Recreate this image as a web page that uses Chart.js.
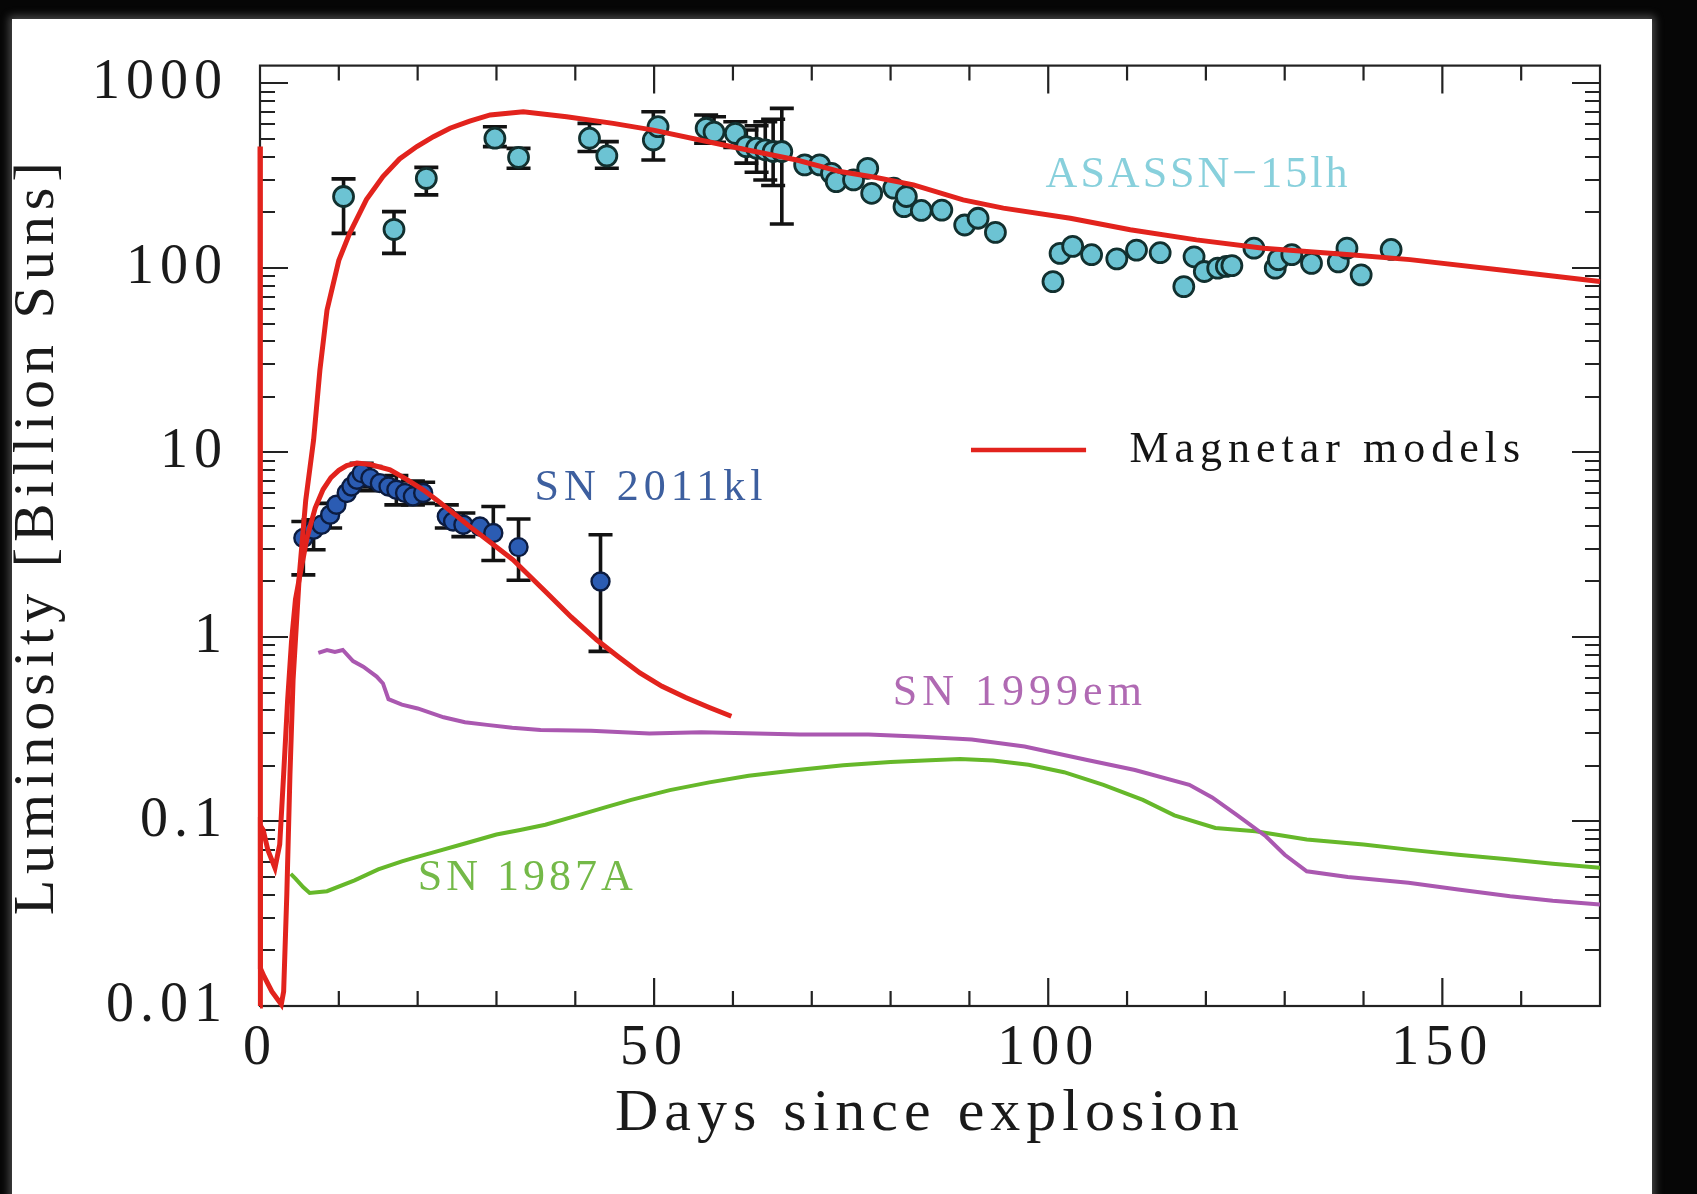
<!DOCTYPE html>
<html>
<head>
<meta charset="utf-8">
<title>Luminosity vs days since explosion</title>
<script src="https://cdn.jsdelivr.net/npm/chart.js@4.4.1/dist/chart.umd.min.js"></script>
<style>
  html, body { margin: 0; padding: 0; background: #050505; }
  #page { position: relative; width: 1697px; height: 1194px; overflow: hidden; background: #060606; }
  #sheet { position: absolute; left: 12px; top: 19px; width: 1640px; height: 1190px; background: #fff;
           box-shadow: 0 0 8px 3px rgba(200,200,200,0.35); }
  #lum { position: absolute; left: 0; top: 0; }
</style>
</head>
<body>
<div id="page">
  <div id="sheet"></div>
  <canvas id="lum" width="1697" height="1194"></canvas>
</div>
<script>
// ASASSN-15lh photometry (days, billion suns, error bar low/high)
var asassnDays = [10.6, 17.0, 21.1, 29.8, 32.8, 41.8, 44.0, 49.9, 50.5, 56.6, 57.6, 60.3, 61.7, 63.0, 64.1, 65.1, 66.2,
  69.1, 71.0, 72.5, 73.1, 75.3, 77.1, 77.6, 80.4, 81.7, 82.0, 83.9, 86.5, 89.4, 91.1, 93.3,
  100.6, 101.5, 103.1, 105.5, 108.7, 111.2, 114.2, 117.2, 118.5, 119.8, 121.5, 122.6, 123.3,
  126.1, 128.8, 129.2, 130.9, 133.4, 136.8, 137.9, 139.7, 143.5];
var asassnLum = [244, 162, 306, 505, 398, 505, 405, 494, 583, 572, 545, 537, 455, 446, 437, 428, 428,
  362, 362, 326, 294, 300, 347, 254, 271, 215, 244, 205, 206, 171, 186, 156,
  84.4, 120, 131, 118, 112, 125, 121, 79.3, 115, 95.7, 99.8, 102, 103,
  128, 99.8, 111, 118, 106, 108, 128, 91.8, 126];
var asassnErrLo = [154, 120, 249, 455, 347, 428, 347, 385, null, 474, 480, 450, 370, 330, 300, 280, 173];
var asassnErrHi = [304, 202, 351, 583, 445, 608, 484, 703, null, 675, 660, 620, 560, 590, 620, 640, 733];

// SN 2011kl photometry
var kl2011Days = [5.5, 6.8, 7.8, 8.9, 9.7, 11.0, 11.6, 12.3, 12.9, 14.0, 15.2, 16.3, 17.3, 18.4, 19.4, 20.7,
  23.7, 24.5, 25.8, 27.9, 29.6, 32.8, 43.2];
var kl2011Lum = [3.44, 3.81, 4.06, 4.60, 5.21, 6.03, 6.54, 7.11, 7.73, 7.26, 6.82, 6.54, 6.28, 6.03, 5.78, 6.03,
  4.50, 4.23, 4.06, 3.97, 3.66, 3.07, 2.0];
var kl2011ErrLo = [2.17, 2.97, null, 3.9, null, null, null, null, 6.5, 6.2, null, null, 5.2, null, 5.2, 5.3,
  3.9, null, 3.5, null, 2.6, 2.03, 0.836];
var kl2011ErrHi = [4.23, 4.32, null, 5.3, null, null, null, null, 8.75, 8.4, null, null, 7.5, null, 7.0, 6.9,
  5.2, null, 4.7, null, 5.1, 4.36, 3.58];

// magnetar model curves
var modelAsassnDays = [0, 0.05, 0.5, 1.5, 2.7, 3.0, 3.4, 3.8, 4.2, 5.0, 5.8, 6.8, 7.6, 8.5, 10, 11.4, 13.5, 15.6,
  17.7, 19.9, 22, 24.1, 26.6, 29.2, 33.4, 38.9, 44.8, 49.9, 55.8, 61.7, 68.1, 73.6, 78, 82.9, 89.2, 94.3,
  102.8, 110.4, 118.8, 127.3, 138.3, 145.9, 158, 170];
var modelAsassnLum = [455, 0.016, 0.0145, 0.012, 0.0102, 0.012, 0.04, 0.18, 0.59, 2.2, 5.5, 11.7, 28, 59, 110, 155,
  235, 313, 390, 455, 515, 572, 625, 675, 703, 661, 608, 559, 494, 437, 385, 333, 310, 282, 234, 211,
  186, 161, 142, 128, 118, 111, 97, 84.4];
var modelKlDays = [0, 0.05, 0.4, 1.0, 1.9, 2.5, 3.0, 3.5, 4.0, 4.5, 5.1, 6, 7, 8, 9, 10, 11, 12.3, 14, 16.5, 18.5,
  20.7, 22.5, 24.5, 26.5, 28.8, 32.1, 36.4, 39.5, 42.7, 45.5, 48.2, 51, 54, 57, 59.8];
var modelKlLum = [0.01, 0.095, 0.09, 0.07, 0.056, 0.075, 0.18, 0.45, 0.95, 1.6, 2.2, 3.5, 5.0, 6.3, 7.3, 8.0, 8.5,
  8.77, 8.6, 8.06, 7.2, 6.28, 5.5, 4.70, 4.0, 3.37, 2.62, 1.73, 1.28, 0.966, 0.78, 0.638, 0.54, 0.47, 0.415, 0.372];

// comparison supernovae
var sn1999emDays = [7.4, 8.5, 9.5, 10.5, 11.8, 13.1, 14.8, 15.6, 16.3, 18, 20, 23.3, 26, 28.8, 32, 35.6, 42, 49.4,
  56, 63, 68.5, 77.2, 84, 90.3, 97, 104.8, 111, 117.9, 120.8, 124, 127.6, 130, 132.8, 138, 145.7, 152, 158.6, 164, 170];
var sn1999emLum = [0.82, 0.85, 0.83, 0.85, 0.74, 0.69, 0.61, 0.56, 0.46, 0.43, 0.41, 0.367, 0.345, 0.334, 0.322,
  0.313, 0.31, 0.30, 0.305, 0.30, 0.296, 0.296, 0.288, 0.278, 0.255, 0.216, 0.19, 0.158, 0.135, 0.108, 0.0832,
  0.066, 0.0537, 0.050, 0.0465, 0.0428, 0.0393, 0.0372, 0.0355];
var sn1987aDays = [3.9, 4.5, 5.5, 6.3, 8.5, 12, 15, 18, 19.5, 22, 26, 30, 33, 36.2, 40, 44, 47.1, 52, 57, 62, 68.5,
  74, 80, 85, 88.8, 93, 97.5, 102, 107, 112, 116, 121.2, 126.3, 132.8, 140, 145.7, 152, 158.6, 164, 170];
var sn1987aLum = [0.052, 0.049, 0.044, 0.041, 0.0419, 0.048, 0.055, 0.0608, 0.0635, 0.068, 0.076, 0.085, 0.090,
  0.096, 0.107, 0.12, 0.131, 0.148, 0.163, 0.177, 0.191, 0.202, 0.21, 0.215, 0.218, 0.214, 0.203, 0.185, 0.158,
  0.131, 0.108, 0.0922, 0.0885, 0.0798, 0.075, 0.0704, 0.066, 0.0622, 0.059, 0.0561];

var xTicks = [0, 50, 100, 150];
var yTicks = [0.01, 0.1, 1, 10, 100, 1000];
var yTickLabels = ['0.01', '0.1', '1', '10', '100', '1000'];

var serif = '"Liberation Serif", "Times New Roman", serif';
var RED = '#e2231d';

function pts(xs, ys) {
  return xs.map(function (d, i) { return { x: d, y: ys[i] }; });
}

// text labels placed in data coordinates
var notes = [
  { text: 'ASASSN\u221215lh', x: 119.0, y: 319, color: '#88d0dc', gap: 3 },
  { text: 'SN 2011kl', x: 49.6, y: 6.36, color: '#3d5f9f', gap: 5 },
  { text: 'SN 1999em', x: 96.4, y: 0.493, color: '#b06ab3', gap: 5 },
  { text: 'SN 1987A', x: 33.9, y: 0.0491, color: '#74b948', gap: 4 }
];
var legendNote = { text: 'Magnetar models', x0: 90.2, x1: 104.8, xText: 110.3, y: 10.3 };

var errorBars = {
  id: 'errorBars',
  beforeDatasetsDraw: function (chart) {
    var ctx = chart.ctx, xs = chart.scales.x, ys = chart.scales.y;
    ctx.save();
    ctx.strokeStyle = '#121212';
    ctx.lineWidth = 3.6;
    chart.data.datasets.forEach(function (ds) {
      if (!ds.errLo) return;
      ds.data.forEach(function (p, i) {
        if (ds.errLo[i] == null) return;
        var x = xs.getPixelForValue(p.x),
            y1 = ys.getPixelForValue(ds.errLo[i]),
            y2 = ys.getPixelForValue(ds.errHi[i]),
            c = 12;
        ctx.beginPath();
        ctx.moveTo(x, y1); ctx.lineTo(x, y2);
        ctx.moveTo(x - c, y1); ctx.lineTo(x + c, y1);
        ctx.moveTo(x - c, y2); ctx.lineTo(x + c, y2);
        ctx.stroke();
      });
    });
    ctx.restore();
  }
};

// box round the plot with inward ticks on all four sides
var frameTicks = {
  id: 'frameTicks',
  beforeDraw: function (chart) {
    chart.ctx.letterSpacing = '6px';
  },
  beforeDatasetsDraw: function (chart) {
    var ctx = chart.ctx, a = chart.chartArea, xs = chart.scales.x, ys = chart.scales.y;
    ctx.save();
    ctx.strokeStyle = '#222';
    ctx.lineWidth = 2.2;
    ctx.strokeRect(a.left, a.top, a.right - a.left, a.bottom - a.top);
    ctx.beginPath();
    for (var d = 10; d < xs.max; d += 10) {
      var px = xs.getPixelForValue(d), len = d % 50 === 0 ? 28 : 15;
      ctx.moveTo(px, a.bottom); ctx.lineTo(px, a.bottom - len);
      ctx.moveTo(px, a.top); ctx.lineTo(px, a.top + len);
    }
    for (var k = -2; k <= 3; k++) {
      for (var m = 1; m <= 9; m++) {
        var v = m * Math.pow(10, k);
        if (v > ys.max) break;
        var py = Math.round(ys.getPixelForValue(v)), l = m === 1 ? 28 : 15;
        ctx.moveTo(a.left, py); ctx.lineTo(a.left + l, py);
        ctx.moveTo(a.right, py); ctx.lineTo(a.right - l, py);
      }
    }
    ctx.stroke();
    ctx.restore();
  },
  afterDatasetsDraw: function (chart) {
    var ctx = chart.ctx, xs = chart.scales.x, ys = chart.scales.y;
    ctx.save();
    ctx.font = '44px ' + serif;
    ctx.textBaseline = 'middle';
    ctx.textAlign = 'center';
    notes.forEach(function (n) {
      ctx.letterSpacing = n.gap + 'px';
      ctx.fillStyle = n.color;
      ctx.fillText(n.text, xs.getPixelForValue(n.x), ys.getPixelForValue(n.y));
    });
    var ly = ys.getPixelForValue(legendNote.y);
    ctx.strokeStyle = RED;
    ctx.lineWidth = 4.5;
    ctx.beginPath();
    ctx.moveTo(xs.getPixelForValue(legendNote.x0), ly);
    ctx.lineTo(xs.getPixelForValue(legendNote.x1), ly);
    ctx.stroke();
    ctx.textAlign = 'left';
    ctx.letterSpacing = '6px';
    ctx.fillStyle = '#141414';
    ctx.fillText(legendNote.text, xs.getPixelForValue(legendNote.xText), ly);
    ctx.restore();
  }
};

var ctx = document.getElementById('lum').getContext('2d');
new Chart(ctx, {
  type: 'scatter',
  data: {
    datasets: [
      { label: 'Magnetar model (ASASSN-15lh)', data: pts(modelAsassnDays, modelAsassnLum), showLine: true,
        borderColor: RED, borderWidth: 5, pointRadius: 0, tension: 0, clip: 6, order: 0 },
      { label: 'Magnetar model (SN 2011kl)', data: pts(modelKlDays, modelKlLum), showLine: true,
        borderColor: RED, borderWidth: 5, pointRadius: 0, tension: 0, clip: 6, order: 0 },
      { label: 'SN 1999em', data: pts(sn1999emDays, sn1999emLum), showLine: true,
        borderColor: '#aa58b0', borderWidth: 4, pointRadius: 0, tension: 0, order: 1 },
      { label: 'SN 1987A', data: pts(sn1987aDays, sn1987aLum), showLine: true,
        borderColor: '#66b82a', borderWidth: 4, pointRadius: 0, tension: 0, order: 1 },
      { label: 'ASASSN-15lh', data: pts(asassnDays, asassnLum), errLo: asassnErrLo, errHi: asassnErrHi,
        backgroundColor: '#6cc3d3', borderColor: '#12302f', borderWidth: 2.8, pointRadius: 10, order: 2 },
      { label: 'SN 2011kl', data: pts(kl2011Days, kl2011Lum), errLo: kl2011ErrLo, errHi: kl2011ErrHi,
        backgroundColor: '#2b5cb3', borderColor: '#0c1c40', borderWidth: 2.4, pointRadius: 9, order: 2 }
    ]
  },
  options: {
    responsive: false,
    devicePixelRatio: 1,
    animation: false,
    events: [],
    layout: { padding: { top: 64, right: 97, left: 0, bottom: 0 } },
    plugins: { legend: { display: false }, tooltip: { enabled: false } },
    scales: {
      x: {
        type: 'linear', min: 0, max: 170, bounds: 'data',
        afterBuildTicks: function (s) { s.ticks = xTicks.map(function (v) { return { value: v }; }); },
        afterFit: function (s) { s.height = 188; },
        grid: { display: false, drawTicks: false },
        border: { display: false },
        ticks: { color: '#1a1a1a', font: { family: serif, size: 56 }, padding: 10, maxRotation: 0, autoSkip: false },
        title: { display: true, text: 'Days since explosion', color: '#1a1a1a',
                 font: { family: serif, size: 60 }, padding: { top: 0, bottom: 44 } }
      },
      y: {
        type: 'logarithmic', min: 0.01, max: 1250, bounds: 'data',
        afterBuildTicks: function (s) { s.ticks = yTicks.map(function (v) { return { value: v }; }); },
        afterFit: function (s) { s.width = 260; },
        grid: { display: false, drawTicks: false },
        border: { display: false },
        ticks: { color: '#1a1a1a', font: { family: serif, size: 56 }, padding: 32, autoSkip: false,
                 callback: function (v, i) { return yTickLabels[i]; } },
        title: { display: true, text: 'Luminosity [Billion Suns]', color: '#1a1a1a',
                 font: { family: serif, size: 58 }, padding: { top: 3, bottom: 0 } }
      }
    }
  },
  plugins: [errorBars, frameTicks]
});
</script>
</body>
</html>
